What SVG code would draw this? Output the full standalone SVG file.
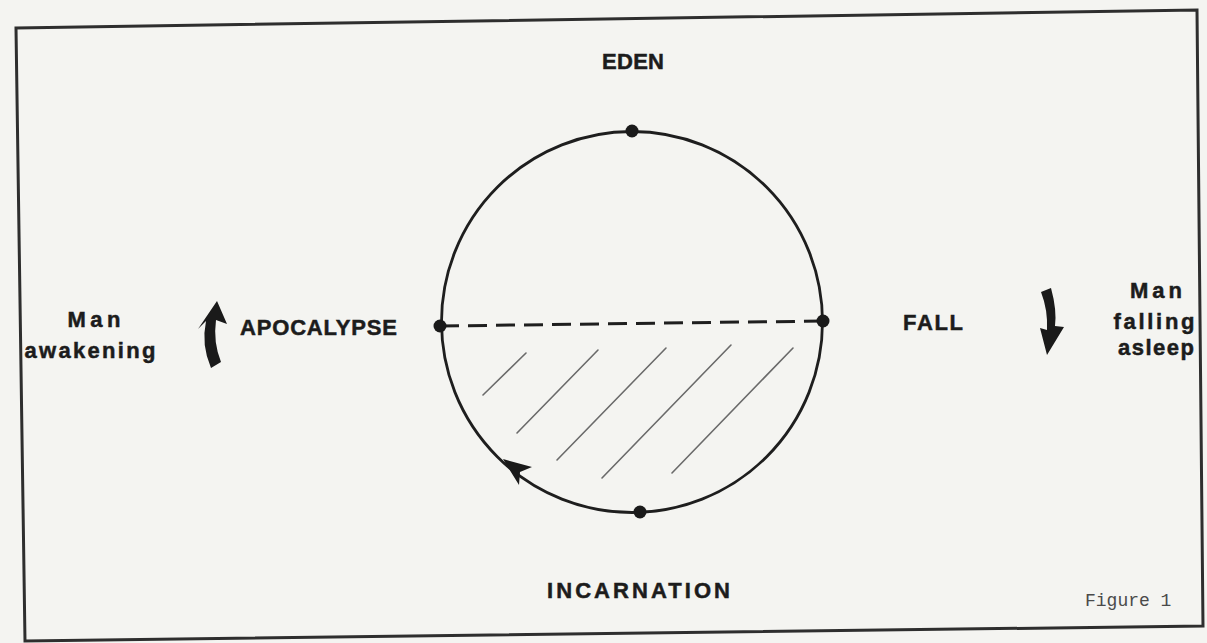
<svg xmlns="http://www.w3.org/2000/svg" width="1207" height="643" viewBox="0 0 1207 643">
  <defs>
    <style>
      .lbl { font-family: "Liberation Sans", Arial, sans-serif; font-weight: bold; font-size: 22px; fill: #1c1c1c; stroke: #1c1c1c; stroke-width: 0.5; }
      .side { font-family: "Liberation Sans", Arial, sans-serif; font-weight: bold; font-size: 22px; fill: #1c1c1c; stroke: #1c1c1c; stroke-width: 0.5; text-anchor: middle; }
      .fig { font-family: "Liberation Mono", "Courier New", monospace; font-size: 18px; fill: #4a4a4a; }
      .frame { fill: none; stroke: #2e2e2e; stroke-width: 3; stroke-linejoin: miter; }
      .ring { fill: none; stroke: #1e1e1e; stroke-width: 2.8; }
      .dot { fill: #1a1a1a; }
      .dash { stroke: #1e1e1e; stroke-width: 3; stroke-dasharray: 19 9; fill: none; }
      .hatch { stroke: #6a6a6a; stroke-width: 1.6; stroke-linecap: round; }
      .bold-arrow { fill: #1a1a1a; }
    </style>
  </defs>

  <rect x="0" y="0" width="1207" height="643" fill="#f4f4f1"/>

  <g id="frame">
    <polygon class="frame" points="16,28 1197,10 1203,626 25,641"/>
  </g>

  <g id="hatching">
    <line class="hatch" x1="483" y1="395" x2="526" y2="353"/>
    <line class="hatch" x1="517" y1="433" x2="598" y2="350"/>
    <line class="hatch" x1="557" y1="460" x2="666" y2="348"/>
    <line class="hatch" x1="602" y1="478" x2="731" y2="345"/>
    <line class="hatch" x1="672" y1="473" x2="793" y2="348"/>
  </g>

  <g id="connectors">
    <circle class="ring" cx="632" cy="322" r="190.5"/>
    <line class="dash" x1="440" y1="326" x2="824" y2="321"/>
    <path class="dot" d="M503,459 L532,467 L520,472 L519,485 Z"/>
  </g>

  <g id="eden">
    <circle class="dot" cx="632" cy="131" r="6.5"/>
    <text class="lbl" x="602" y="69" textLength="62" lengthAdjust="spacing">EDEN</text>
  </g>

  <g id="fall">
    <circle class="dot" cx="823" cy="321" r="6.5"/>
    <text class="lbl" x="903" y="330" textLength="60" lengthAdjust="spacing">FALL</text>
  </g>

  <g id="incarnation">
    <circle class="dot" cx="640" cy="512" r="6.5"/>
    <text class="lbl" x="547" y="598" textLength="183" lengthAdjust="spacing">INCARNATION</text>
  </g>

  <g id="apocalypse">
    <circle class="dot" cx="440" cy="326" r="6.5"/>
    <text class="lbl" x="240" y="335" textLength="157" lengthAdjust="spacing">APOCALYPSE</text>
  </g>

  <g id="man-awakening">
    <path class="bold-arrow" d="M217,301 L227,324 L216,320 Q213,342 221,362 L211,368 Q201,345 206,321 L198,329 Z"/>
    <text class="side" x="94" y="327" textLength="53" lengthAdjust="spacing">Man</text>
    <text class="side" x="90" y="358" textLength="131" lengthAdjust="spacing">awakening</text>
  </g>

  <g id="man-falling-asleep">
    <path class="bold-arrow" d="M1041,292 L1051,288 Q1057,310 1055,326 L1064,327 L1047,355 L1040,328 L1047,330 Q1048,310 1041,292 Z"/>
    <text class="side" x="1156" y="298" textLength="52" lengthAdjust="spacing">Man</text>
    <text class="side" x="1154" y="329" textLength="81" lengthAdjust="spacing">falling</text>
    <text class="side" x="1156" y="355" textLength="76" lengthAdjust="spacing">asleep</text>
  </g>

  <g id="caption">
    <text class="fig" x="1085" y="606">Figure 1</text>
  </g>
</svg>
